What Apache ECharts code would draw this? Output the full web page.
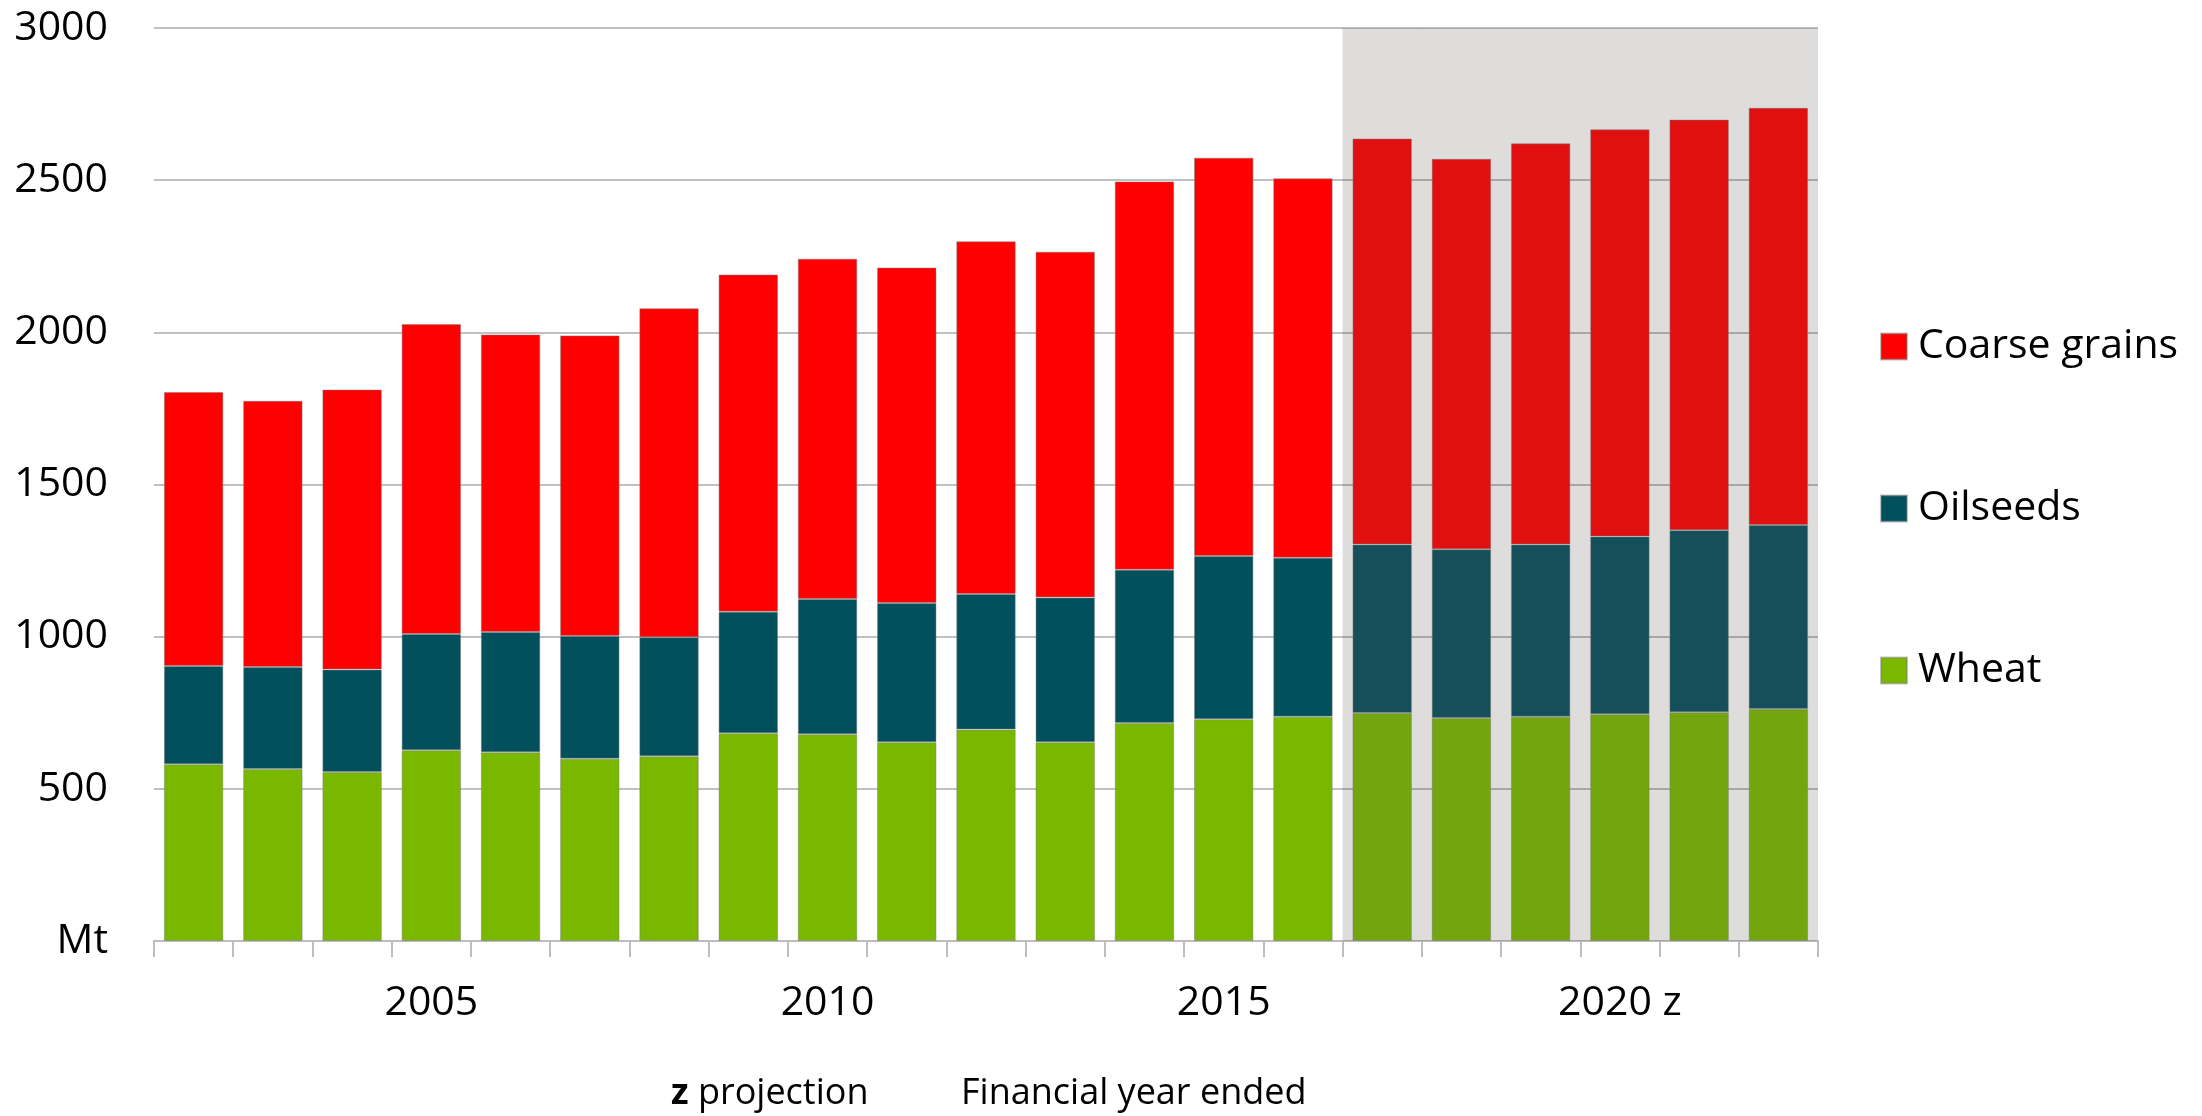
<!DOCTYPE html>
<html>
<head>
<meta charset="utf-8">
<title>Grain and oilseed production</title>
<script src="https://cdn.jsdelivr.net/npm/echarts@6/dist/echarts.min.js"></script>
<style>
  html, body { margin: 0; padding: 0; background: #fff; }
  #chart { width: 2202px; height: 1116px; }
</style>
</head>
<body>
<div id="chart"></div>
<script>
  // financial year ended
  var years = ['2002', '2003', '2004', '2005', '2006', '2007', '2008', '2009', '2010', '2011',
    '2012', '2013', '2014', '2015', '2016', '2017', '2018', '2019', '2020', '2021', '2022'];
  // Mt
  var wheat = [581, 565, 555, 627, 620, 599, 607, 683, 679, 653, 695, 653, 716, 729, 737, 749, 733, 737, 745, 752, 762];
  var oilseeds = [323, 335, 337, 382, 395, 403, 391, 399, 445, 458, 445, 476, 504, 536, 522, 554, 554, 566, 584, 598, 605];
  var coarseGrains = [900, 875, 920, 1018, 978, 988, 1081, 1108, 1118, 1102, 1159, 1136, 1276, 1309, 1247, 1334, 1283, 1318, 1338, 1349, 1371];
  // years that are projections (shaded)
  var projectionYears = ['2017', '2018', '2019', '2020', '2021', '2022'];
  // labels shown on the x axis
  var xTickLabels = {'2005': '2005', '2010': '2010', '2015': '2015', '2020': '2020 z'};
  var yMin = 0, yMax = 3000, yStep = 500;

  var font = '"Open Sans", "Noto Sans", sans-serif';

  function stackData(values, color, projColor) {
    return values.map(function (v, i) {
      var isProj = projectionYears.indexOf(years[i]) >= 0;
      return {value: v, itemStyle: {color: isProj ? projColor : color}};
    });
  }

  var chart = echarts.init(document.getElementById('chart'));
  chart.setOption({
    animation: false,
    backgroundColor: '#fff',
    grid: {
      left: 154,
      right: 384,
      top: 28,
      bottom: 175
    },
    legend: {
      data: ['Coarse grains', 'Oilseeds', 'Wheat'],
      orient: 'vertical',
      left: 1875,
      top: 321,
      itemWidth: 26,
      itemHeight: 26,
      itemGap: 121,
      icon: 'rect',
      selectedMode: false,
      textStyle: {
        fontFamily: font,
        fontSize: 41,
        lineHeight: 41,
        color: '#000',
        padding: [0, 0, 0, 6]
      }
    },
    xAxis: [{
      type: 'category',
      data: years,
      axisLine: {
        lineStyle: {color: '#bdbdbd', width: 2}
      },
      axisTick: {
        show: true,
        length: 16,
        interval: 0,
        lineStyle: {color: '#bdbdbd', width: 2}
      },
      axisLabel: {
        interval: function (index, value) {
          return xTickLabels.hasOwnProperty(value);
        },
        formatter: function (value) {
          return xTickLabels[value] || '';
        },
        fontFamily: font,
        fontSize: 41,
        lineHeight: 41,
        color: '#000',
        margin: 42
      },
      splitLine: {show: false}
    }, {
      type: 'category',
      data: years,
      show: false
    }],
    yAxis: {
      type: 'value',
      min: yMin,
      max: yMax,
      interval: yStep,
      axisLine: {show: false},
      axisTick: {show: false},
      axisLabel: {
        fontFamily: font,
        fontSize: 41,
        color: '#000',
        margin: 46,
        formatter: function (v) {
          return v === 0 ? 'Mt' : String(v);
        }
      },
      splitLine: {
        lineStyle: {color: '#c0c0c0', width: 2}
      }
    },
    series: [
      {
        name: 'projection',
        type: 'bar',
        xAxisIndex: 1,
        barWidth: '100%',
        silent: true,
        z: 1,
        data: years.map(function (y) {
          return projectionYears.indexOf(y) >= 0 ? yMax : '-';
        }),
        itemStyle: {color: 'rgba(26, 12, 5, 0.14)'}
      },
      {
        name: 'Wheat',
        type: 'bar',
        stack: 'total',
        barCategoryGap: '25%',
        z: 3,
        itemStyle: {color: '#7ab800', borderColor: 'rgba(120,120,120,0.45)', borderWidth: 1},
        data: stackData(wheat, '#7ab800', '#73a511')
      },
      {
        name: 'Oilseeds',
        type: 'bar',
        stack: 'total',
        z: 3,
        itemStyle: {color: '#02505c', borderColor: 'rgba(120,120,120,0.45)', borderWidth: 1},
        data: stackData(oilseeds, '#02505c', '#154f5a')
      },
      {
        name: 'Coarse grains',
        type: 'bar',
        stack: 'total',
        z: 3,
        itemStyle: {color: '#ff0000', borderColor: 'rgba(120,120,120,0.45)', borderWidth: 1},
        data: stackData(coarseGrains, '#ff0000', '#e01010')
      }
    ],
    graphic: [
      {
        type: 'text',
        left: 671,
        top: 1076,
        style: {
          text: '{b|z} projection',
          fontFamily: font,
          fontSize: 36,
          fill: '#000',
          rich: {
            b: {fontFamily: font, fontSize: 36, fontWeight: 'bold', fill: '#000'}
          }
        }
      },
      {
        type: 'text',
        left: 961,
        top: 1076,
        style: {
          text: 'Financial year ended',
          fontFamily: font,
          fontSize: 36,
          fill: '#000'
        }
      }
    ]
  });
</script>
</body>
</html>
